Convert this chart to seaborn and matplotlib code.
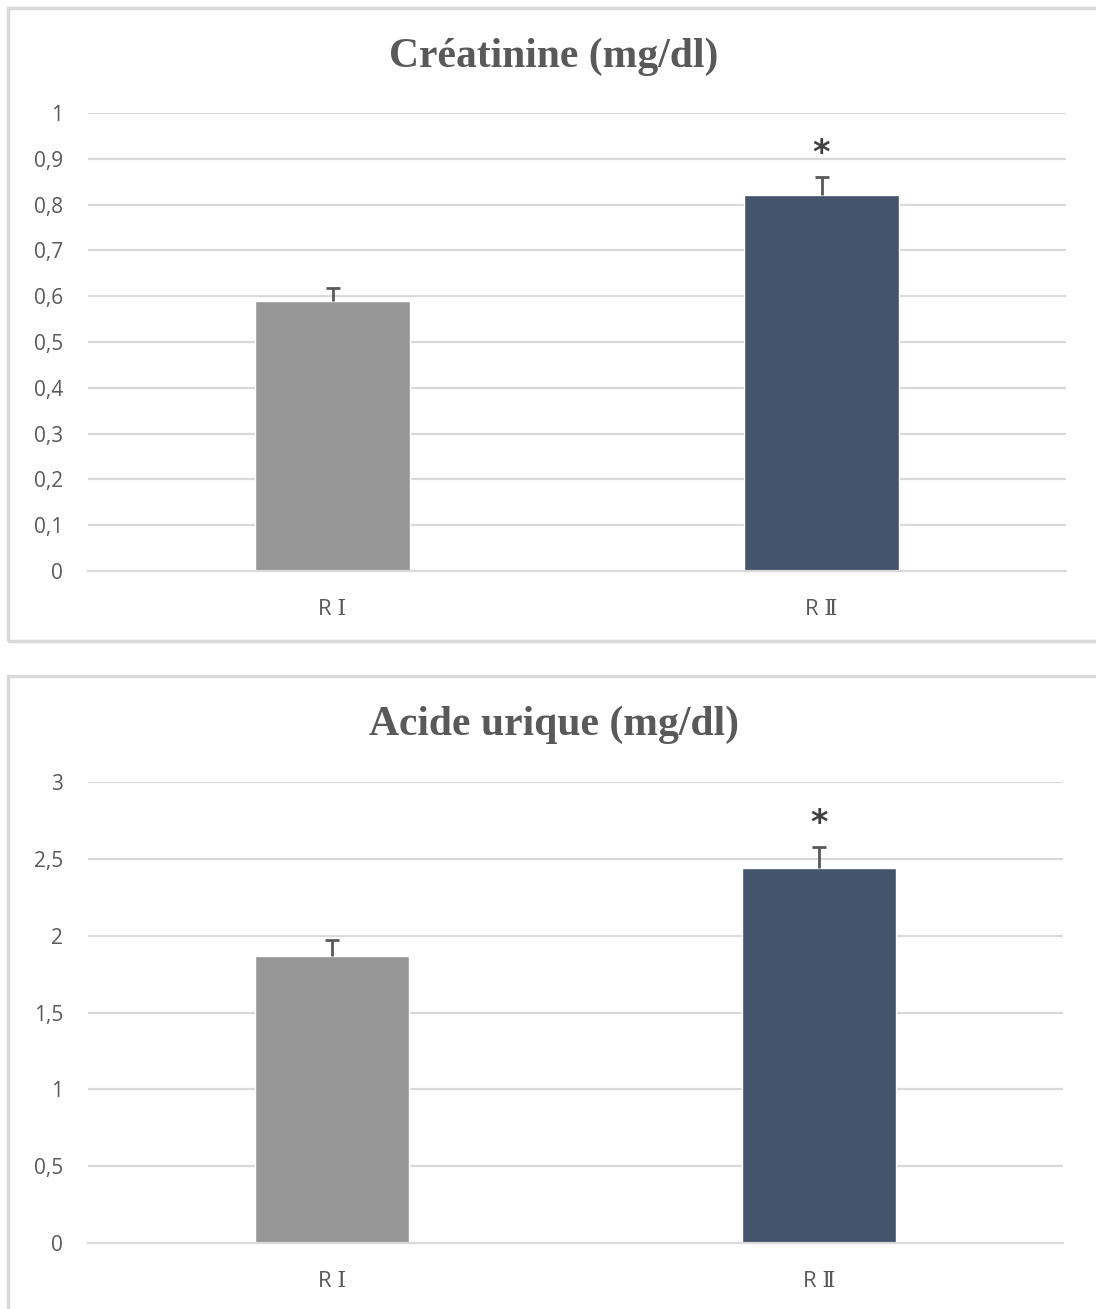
import matplotlib
matplotlib.use("Agg")
import matplotlib.pyplot as plt
from matplotlib.patches import Rectangle
import seaborn as sns
import pandas as pd

# ----------------------------
# Data
# ----------------------------
groups = ["R Ⅰ", "R Ⅱ"]
bar_colors = ["#969696", "#44546a"]

creat_mean = [0.59, 0.82]
creat_err = [0.027, 0.04]
creat_ticks = [0, 0.1, 0.2, 0.3, 0.4, 0.5, 0.6, 0.7, 0.8, 0.9, 1]

uric_mean = [1.87, 2.44]
uric_err = [0.10, 0.14]
uric_ticks = [0, 0.5, 1, 1.5, 2, 2.5, 3]

signif = ["", "*"]

sns.set_theme(style="white")
plt.rcParams["font.family"] = ["Liberation Sans", "DejaVu Sans"]

GRID = "#d9d9d9"
TXT = "#595959"


def fmt(v):
    s = f"{v:g}"
    return s.replace(".", ",")


def draw_panel(ax, title, title_y, means, errs, ticks):
    df = pd.DataFrame({"group": groups, "value": means})
    sns.barplot(data=df, x="group", y="value", hue="group", palette=bar_colors,
                width=0.315, legend=False, ax=ax, saturation=1)
    xs = list(range(len(groups)))
    tops = [m + e for m, e in zip(means, errs)]
    # only the upper half of the error bar, cap on top
    ax.vlines(xs, means, tops, color=TXT, linewidth=2, zorder=3)
    ax.plot(xs, tops, ls="none", marker="_", markersize=10, mew=2, color=TXT, zorder=3)
    for i, (t, s) in enumerate(zip(tops, signif)):
        if s:
            ax.annotate(s, (i, t), xytext=(0, 5), textcoords="offset points",
                        ha="center", va="bottom", fontsize=24, fontweight="bold",
                        color="#404040", family="DejaVu Sans")
    ax.set_xlim(-0.5, 1.5)
    ax.set_ylim(0, ticks[-1])
    ax.set_yticks(ticks)
    ax.set_yticklabels([fmt(t) for t in ticks])
    ax.yaxis.grid(True, color=GRID, linewidth=1.6)
    ax.set_axisbelow(True)
    for sp in ["top", "right", "left"]:
        ax.spines[sp].set_visible(False)
    ax.spines["bottom"].set_color(GRID)
    ax.spines["bottom"].set_linewidth(1.6)
    ax.tick_params(axis="y", length=0, pad=18, labelsize=15, labelcolor=TXT)
    ax.tick_params(axis="x", length=0, pad=20, labelsize=16, labelcolor=TXT)
    for lbl in ax.get_yticklabels():
        lbl.set_family(["Open Sans", "DejaVu Sans"])
    for lbl in ax.get_xticklabels():
        lbl.set_family(["Open Sans", "DejaVu Serif"])
    ax.set_xlabel("")
    ax.set_ylabel("")
    fig.text(554 / 1096, title_y, title, ha="center", va="center", fontsize=30,
             fontweight="bold", color=TXT, family=["Liberation Serif", "DejaVu Serif"])


fig = plt.figure(figsize=(10.96, 13.09), dpi=100)

# panel frames
fig.patches.append(Rectangle((8 / 1096, 1 - 641 / 1309), 1.0, 633 / 1309,
                             transform=fig.transFigure, fill=False,
                             edgecolor=GRID, linewidth=2.5))
fig.patches.append(Rectangle((8 / 1096, -0.01), 1.0, 1 - 676 / 1309 + 0.01,
                             transform=fig.transFigure, fill=False,
                             edgecolor=GRID, linewidth=2.5))

ax1 = fig.add_axes([88 / 1096, 1 - 571 / 1309, 978 / 1096, 458 / 1309])
ax2 = fig.add_axes([88 / 1096, 1 - 1243 / 1309, 975 / 1096, 461 / 1309])

draw_panel(ax1, "Créatinine (mg/dl)", 1 - 57 / 1309, creat_mean, creat_err, creat_ticks)
draw_panel(ax2, "Acide urique (mg/dl)", 1 - 725 / 1309, uric_mean, uric_err, uric_ticks)

fig.savefig("out.png", dpi=100, facecolor="white")
